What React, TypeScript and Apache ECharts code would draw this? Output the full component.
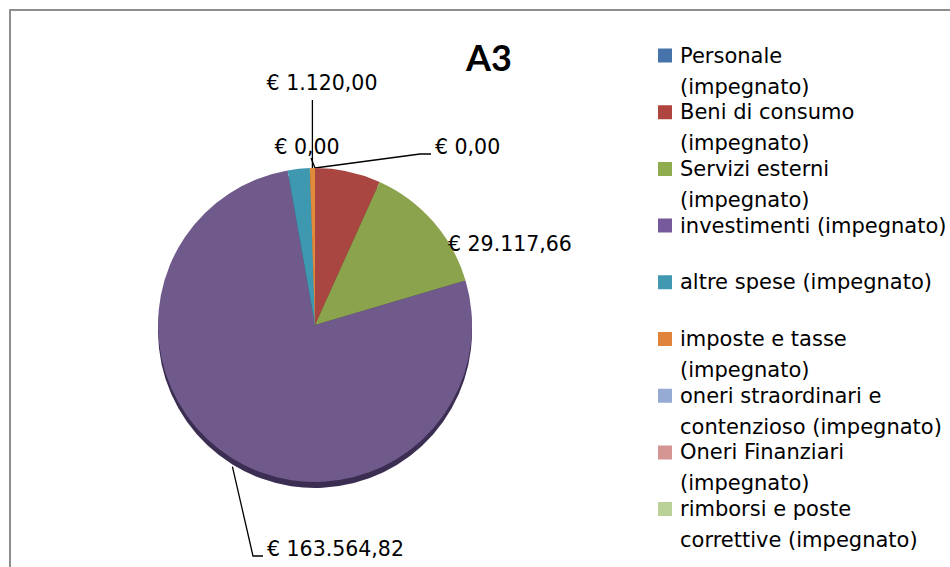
import React, { useEffect, useRef } from "react";
import * as echarts from "echarts";

const categories = [
  "Personale (impegnato)",
  "Beni di consumo (impegnato)",
  "Servizi esterni (impegnato)",
  "investimenti (impegnato)",
  "altre spese (impegnato)",
  "imposte e tasse (impegnato)",
  "oneri straordinari e contenzioso (impegnato)",
  "Oneri Finanziari (impegnato)",
  "rimborsi e poste correttive (impegnato)",
];
const values = [0, 14380, 29117.66, 163564.82, 4820, 1120, 0, 0, 0];
const labelShown = [true, false, true, true, false, true, true, false, false];
const legendLines = [
  ["Personale", "(impegnato)"],
  ["Beni di consumo", "(impegnato)"],
  ["Servizi esterni", "(impegnato)"],
  ["investimenti (impegnato)", " "],
  ["altre spese (impegnato)", " "],
  ["imposte e tasse", "(impegnato)"],
  ["oneri straordinari e", "contenzioso (impegnato)"],
  ["Oneri Finanziari", "(impegnato)"],
  ["rimborsi e poste", "correttive (impegnato)"],
];
const titleText = "A3";

const pieColors = ["#4a78ae", "#a94642", "#8ba34c", "#705a8c", "#3e98b0", "#e08a3c", "#94abd2", "#d39592", "#b8cf96"];
const legendColors = ["#4674aa", "#b0443f", "#8fac4f", "#76599a", "#4199b1", "#e0843c", "#95abd3", "#d49593", "#b9d097"];
const depthColors = ["#2a4466", "#5e2624", "#4d5b2a", "#3b2e52", "#22566a", "#7d4a1e", "#55627a", "#7a5453", "#68765a"];

const TITLE_FONT = "Lato";
const TEXT_FONT = "DejaVu Sans";

function euro(v: number): string {
  const [i, d] = v.toFixed(2).split(".");
  return "€ " + i.replace(/\B(?=(\d{3})+(?!\d))/g, ".") + "," + d;
}

// label placement (layout config)
const labelPlacement: Record<number, any> = {
  0: { x: 435, y: 147, align: "left", line: "right" },
  2: { x: 448, y: 244, align: "left", line: "none" },
  3: { x: 267, y: 549, align: "left", line: "bottom" },
  5: { x: 322, y: 83, align: "center", line: "up" },
  6: { x: 307, y: 147, align: "center", line: "short" },
};

export default function App() {
  const ref = useRef<HTMLDivElement>(null);
  useEffect(() => {
    if (!ref.current) return;
    const chart = echarts.init(ref.current, null, { renderer: "svg" });
    const mainData = categories.map((name, i) => ({
      name,
      value: values[i],
      itemStyle: { color: pieColors[i] },
      label: { show: labelShown[i] },
      labelLine: { show: labelShown[i] && labelPlacement[i]?.line !== "none" },
    }));
    const depthData = categories.map((name, i) => ({
      name,
      value: values[i],
      itemStyle: { color: depthColors[i] },
    }));
    const option: any = {
      animation: false,
      backgroundColor: "#ffffff",
      title: {
        text: titleText,
        left: 466,
        top: 39,
        padding: 0,
        textStyle: { fontFamily: TITLE_FONT, fontSize: 36, fontWeight: "bold", color: "#000" },
      },
      legend: {
        orient: "vertical",
        left: 658,
        top: 40,
        padding: 0,
        itemWidth: 14,
        itemHeight: 45,
        itemGap: -5.3,
        // square swatch aligned with the first text line (invisible segment extends the box)
        icon: "path://M0 0H14V14H0Z M0 45L14 45",
        symbolKeepAspect: true,
        selectedMode: false,
        formatter: (name: string) => legendLines[categories.indexOf(name)].join("\n"),
        textStyle: {
          fontFamily: TEXT_FONT,
          fontSize: 21,
          color: "#000",
          lineHeight: 31,
          padding: [0, 0, 0, 3],
        },
        data: categories.map((name, i) => ({ name, itemStyle: { color: legendColors[i] } })),
      },
      graphic: [
        {
          type: "rect",
          shape: { x: 10, y: 10, width: 2000, height: 2000 },
          style: { fill: "none", stroke: "#8e8e8e", lineWidth: 2 },
          silent: true,
          z: 100,
        },
      ],
      series: [
        {
          type: "pie",
          name: "depth",
          center: [315, 331],
          radius: 157,
          startAngle: 90,
          clockwise: true,
          silent: true,
          z: 1,
          label: { show: false },
          labelLine: { show: false },
          itemStyle: { borderWidth: 0 },
          data: depthData,
        },
        {
          type: "pie",
          name: "A3",
          center: [315, 325],
          radius: 157,
          startAngle: 90,
          clockwise: true,
          z: 2,
          avoidLabelOverlap: false,
          itemStyle: { borderWidth: 0 },
          label: {
            show: true,
            position: "outside",
            formatter: (p: any) => euro(p.value),
            fontFamily: TEXT_FONT,
            fontSize: 20.5,
            color: "#000",
          },
          labelLine: { show: true, lineStyle: { color: "#000", width: 1.3 }, length: 10, length2: 10 },
          labelLayout: (p: any) => {
            const cfg = labelPlacement[p.dataIndex];
            if (!cfg) return {};
            const res: any = { x: cfg.x, y: cfg.y, align: cfg.align, verticalAlign: "middle" };
            const pts = p.labelLinePoints;
            if (pts && pts.length) {
              const p0 = pts[0];
              if (cfg.line === "right") {
                res.labelLinePoints = [p0, [cfg.x - 15, cfg.y + 7], [cfg.x - 4, cfg.y + 7]];
              } else if (cfg.line === "bottom") {
                res.labelLinePoints = [[p0[0], p0[1] + 8], [cfg.x - 14, cfg.y + 7], [cfg.x - 4, cfg.y + 7]];
              } else if (cfg.line === "up") {
                res.labelLinePoints = [p0, [p0[0], cfg.y + 17], [p0[0], cfg.y + 17]];
              } else if (cfg.line === "short") {
                res.labelLinePoints = [p0, [p0[0] - 4, cfg.y + 11], [p0[0] - 4, cfg.y + 11]];
              }
            }
            return res;
          },
          data: mainData,
        },
      ],
    };
    chart.setOption(option);
    return () => chart.dispose();
  }, []);
  return (
    <div
      ref={ref}
      style={{ position: "fixed", left: 0, top: 0, width: 950, height: 567, background: "#fff" }}
    />
  );
}
